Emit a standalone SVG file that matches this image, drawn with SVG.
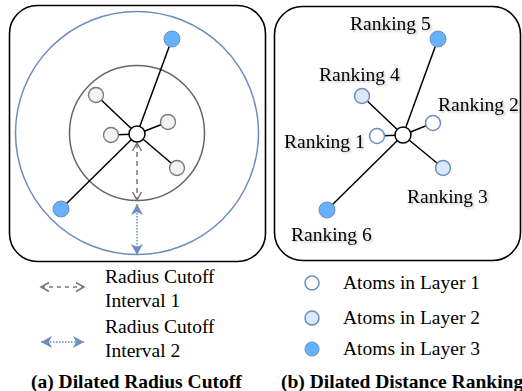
<svg xmlns="http://www.w3.org/2000/svg" width="522" height="391" viewBox="0 0 522 391">
<style>
.panel{fill:#fff;stroke:#000;stroke-width:1.6}
.edge{stroke:#000;stroke-width:1.5}
.center{fill:#fff;stroke:#000;stroke-width:1.5}
.grey{fill:#f2f2f2;stroke:#777;stroke-width:1.3}
.l1{fill:#fff;stroke:#6c8ebf;stroke-width:1.5}
.l2{fill:#dae8fc;stroke:#6c8ebf;stroke-width:1.5}
.l3{fill:#66b2ff;stroke:#6c8ebf;stroke-width:1}
.t{font-family:"Liberation Serif","Times New Roman",serif;font-size:19.5px;fill:#000}
.tb{font-family:"Liberation Serif","Times New Roman",serif;font-size:19.5px;font-weight:bold;fill:#000}
.dash{stroke:#777;stroke-width:1.5;stroke-dasharray:5,4;fill:none}
.dot{stroke:#6c8ebf;stroke-width:1.5;stroke-dasharray:1.5,1.5;fill:none}
</style>
<defs>
<marker id="ga" markerUnits="userSpaceOnUse" markerWidth="12" markerHeight="12" refX="9" refY="5" orient="auto-start-reverse" viewBox="0 0 12 10">
<path d="M1,0.5 L9,5 L1,9.5" fill="none" stroke="#777" stroke-width="1.5"/>
</marker>
<marker id="ba" markerUnits="userSpaceOnUse" markerWidth="12" markerHeight="12" refX="11" refY="6" orient="auto-start-reverse" viewBox="0 0 12 12">
<path d="M0,0 L11,6 L0,12 L3,6 Z" fill="#6c8ebf"/>
</marker>
<filter id="sh" x="-10%" y="-20%" width="130%" height="160%">
<feDropShadow dx="1.5" dy="1.5" stdDeviation="1.2" flood-color="#000" flood-opacity="0.25"/>
</filter>
</defs>

<g id="panel-a">
<rect class="panel" x="9.5" y="5.5" width="256" height="256" rx="28"/>
<circle cx="137" cy="133" r="121.5" fill="none" stroke="#6c8ebf" stroke-width="1.5"/>
<circle cx="137" cy="133" r="67.5" fill="none" stroke="#666" stroke-width="1.5"/>
</g>
<g id="connectors-a">
<line class="edge" x1="137" y1="134" x2="96" y2="95"/>
<line class="edge" x1="137" y1="134" x2="111" y2="135"/>
<line class="edge" x1="137" y1="134" x2="168" y2="122"/>
<line class="edge" x1="137" y1="134" x2="177" y2="168"/>
<line class="edge" x1="137" y1="134" x2="172" y2="39"/>
<line class="edge" x1="137" y1="134" x2="61" y2="209"/>
<line class="dash" x1="137" y1="143" x2="137" y2="200" marker-start="url(#ga)" marker-end="url(#ga)"/>
<line class="dot" x1="137" y1="204" x2="137" y2="255" marker-start="url(#ba)" marker-end="url(#ba)"/>
</g>
<g id="a-atom-g1"><circle class="grey" cx="96" cy="95" r="7.5"/></g>
<g id="a-atom-g2"><circle class="grey" cx="111" cy="135" r="7.5"/></g>
<g id="a-atom-g3"><circle class="grey" cx="168" cy="122" r="7.5"/></g>
<g id="a-atom-g4"><circle class="grey" cx="177" cy="168" r="7.5"/></g>
<g id="a-atom-b1"><circle class="l3" cx="172" cy="39" r="8"/></g>
<g id="a-atom-b2"><circle class="l3" cx="61" cy="209" r="8"/></g>
<g id="a-center"><circle class="center" cx="137" cy="134" r="8"/></g>

<g id="panel-b">
<rect class="panel" x="274.5" y="6.5" width="246" height="254" rx="28"/>
</g>
<g id="connectors-b">
<line class="edge" x1="403" y1="135" x2="438" y2="39"/>
<line class="edge" x1="403" y1="135" x2="327" y2="210"/>
<line class="edge" x1="403" y1="135" x2="362" y2="96"/>
<line class="edge" x1="403" y1="135" x2="443" y2="168"/>
<line class="edge" x1="403" y1="135" x2="377" y2="136"/>
<line class="edge" x1="403" y1="135" x2="433" y2="123"/>
</g>
<g id="rank5"><circle class="l3" cx="438" cy="39" r="8"/><text class="t" x="350" y="30" filter="url(#sh)">Ranking 5</text></g>
<g id="rank6"><circle class="l3" cx="327" cy="210" r="8"/><text class="t" x="291" y="241" filter="url(#sh)">Ranking 6</text></g>
<g id="rank4"><circle class="l2" cx="362" cy="96" r="7.5"/><text class="t" x="319" y="81" filter="url(#sh)">Ranking 4</text></g>
<g id="rank3"><circle class="l2" cx="443" cy="168" r="7.5"/><text class="t" x="407" y="203" filter="url(#sh)">Ranking 3</text></g>
<g id="rank1"><circle class="l1" cx="377" cy="136" r="7.5"/><text class="t" x="284" y="148" filter="url(#sh)">Ranking 1</text></g>
<g id="rank2"><circle class="l1" cx="433" cy="123" r="7.5"/><text class="t" x="438" y="111" filter="url(#sh)">Ranking 2</text></g>
<g id="b-center"><circle class="center" cx="403" cy="135" r="8"/></g>

<g id="legend-a">
<line class="dash" x1="41" y1="287" x2="84" y2="287" marker-start="url(#ga)" marker-end="url(#ga)" style="stroke-dasharray:4,4"/>
<text class="t" x="105" y="283">Radius Cutoff</text>
<text class="t" x="105" y="307">Interval 1</text>
<line class="dot" x1="41" y1="342" x2="84" y2="342" marker-start="url(#ba)" marker-end="url(#ba)"/>
<text class="t" x="105" y="333">Radius Cutoff</text>
<text class="t" x="105" y="357">Interval 2</text>
<text class="tb" x="31" y="388">(a) Dilated Radius Cutoff</text>
</g>
<g id="legend-b">
<circle class="l1" cx="312" cy="283" r="7"/>
<text class="t" x="343" y="289">Atoms in Layer 1</text>
<circle class="l2" cx="312" cy="318" r="7"/>
<text class="t" x="343" y="324">Atoms in Layer 2</text>
<circle class="l3" cx="312" cy="349" r="7"/>
<text class="t" x="343" y="355">Atoms in Layer 3</text>
<text class="tb" x="281" y="388">(b) Dilated Distance Ranking</text>
</g>
</svg>
